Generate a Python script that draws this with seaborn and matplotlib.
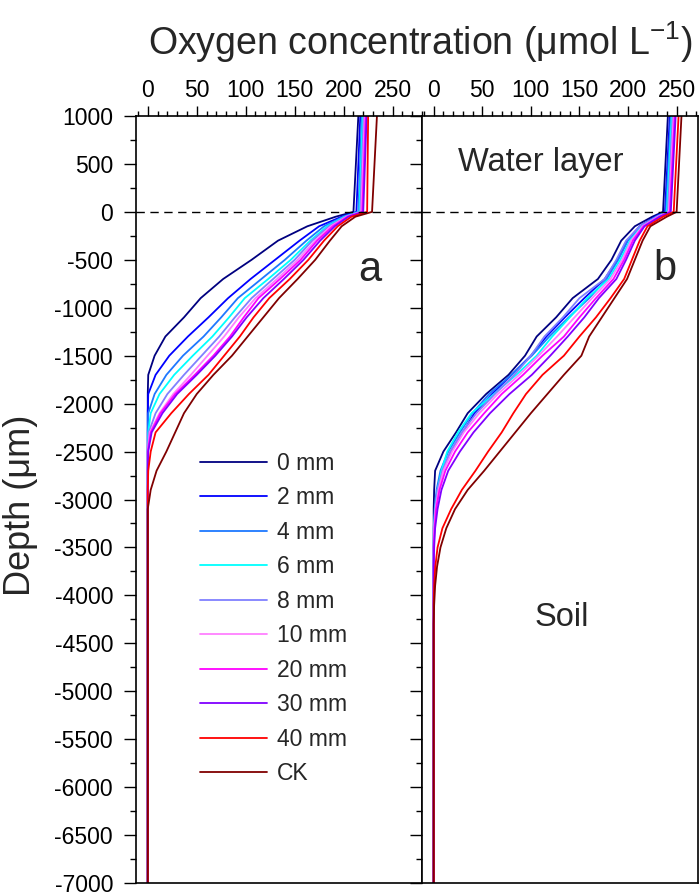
import numpy as np
import pandas as pd
import matplotlib
matplotlib.use("Agg")
import matplotlib.pyplot as plt
from matplotlib.ticker import MultipleLocator
import seaborn as sns

sns.set_theme(style="ticks", rc={"axes.edgecolor": "black", "axes.linewidth": 1.2,
                                 "xtick.color": "black", "ytick.color": "black"})
plt.rcParams["font.family"] = ["Liberation Sans", "DejaVu Sans"]
plt.rcParams["mathtext.fontset"] = "custom"
plt.rcParams["mathtext.rm"] = "Liberation Sans"
plt.rcParams["mathtext.default"] = "regular"
plt.rcParams["axes.unicode_minus"] = False

# depth grid (um) shared by every profile
depth = [1000, 0, -50, -150, -300, -500, -700, -900, -1100, -1300, -1500, -1700, -1900,
         -2100, -2300, -2500, -2700, -2900, -3100, -3300, -3500, -3700, -3900, -4100, -4300, -7000]

treatments = ["0 mm", "2 mm", "4 mm", "6 mm", "8 mm", "10 mm", "20 mm", "30 mm", "40 mm", "CK"]
colors = ["#000080", "#0000ff", "#1e78ff", "#00ffff", "#8080ff",
          "#ff80ff", "#ff00ff", "#8000ff", "#ff0000", "#800000"]

# panel a oxygen profiles (umol/L)
a_0 = [215, 210, 192, 163, 133, 106, 77, 54, 37, 18, 7, 0.5, 0, 0, 0, 0, 0, 0, 0, 0, 0, 0, 0, 0, 0, 0]
a_2 = [217, 213, 198, 175, 155, 130, 105, 82, 62, 41, 22, 8, 0.5, 0, 0, 0, 0, 0, 0, 0, 0, 0, 0, 0, 0, 0]
a_4 = [218.5, 215, 200, 180, 162, 140, 116, 92, 75, 57, 36, 19, 7, 0.5, 0, 0, 0, 0, 0, 0, 0, 0, 0, 0, 0, 0]
a_6 = [219.5, 216, 201, 183, 166, 146, 123, 99, 83, 66, 46, 27, 12, 3, 0.5, 0, 0, 0, 0, 0, 0, 0, 0, 0, 0, 0]
a_8 = [220.5, 217, 202, 185, 168, 150, 128, 106, 89, 73, 55, 37, 20, 8, 1, 0, 0, 0, 0, 0, 0, 0, 0, 0, 0, 0]
a_10 = [221.5, 218, 203, 187, 171, 153, 132, 110, 93, 78, 61, 44, 26, 12, 2, 0, 0, 0, 0, 0, 0, 0, 0, 0, 0, 0]
a_20 = [222.5, 219, 204, 189, 173, 156, 135, 113, 98, 84, 67, 48, 28, 13, 3, 0, 0, 0, 0, 0, 0, 0, 0, 0, 0, 0]
a_30 = [223.5, 220, 205, 191, 176, 159, 139, 118, 101, 86, 69, 50, 30, 15, 4, 0.5, 0, 0, 0, 0, 0, 0, 0, 0, 0, 0]
a_40 = [225, 224, 208, 194, 180, 164, 145, 124, 108, 94, 78, 62, 42, 24, 8, 3, 0.5, 0, 0, 0, 0, 0, 0, 0, 0, 0]
a_ck = [234, 229, 212, 198, 186, 171, 153, 134, 118, 102, 86, 67, 50, 37, 28, 19, 9, 3, 0, 0, 0, 0, 0, 0, 0, 0]

# panel b oxygen profiles (umol/L)
b_0 = [241, 236, 225, 207, 193, 183, 169, 143, 126, 106, 94, 77, 54, 35, 23, 10, 1.5, 0.5, 0, 0, 0, 0, 0, 0, 0, 0]
b_2 = [243, 238, 228, 212, 199, 189, 176, 155, 135, 116, 100, 80, 60, 42, 30, 18, 9, 4, 1.5, 0.5, 0, 0, 0, 0, 0, 0]
b_4 = [244, 239, 229, 213, 200, 190, 178, 160, 139, 119, 101, 80, 57, 40, 27, 15, 7, 3, 1, 0, 0, 0, 0, 0, 0, 0]
b_6 = [245, 240, 230, 214, 202, 192, 180, 158, 140, 122, 106, 85, 62, 39, 25, 14, 8, 4, 1.5, 0.5, 0, 0, 0, 0, 0, 0]
b_8 = [246, 241, 230, 212, 198, 188, 176, 150, 133, 114, 100, 83, 63, 44, 29, 17, 9, 4, 1.5, 0.5, 0, 0, 0, 0, 0, 0]
b_10 = [247, 242, 231, 215, 203, 194, 182, 163, 145, 127, 108, 88, 66, 47, 31, 19, 10, 5, 2, 0.5, 0, 0, 0, 0, 0, 0]
b_20 = [248, 243, 232, 216, 205, 196, 185, 167, 150, 134, 112, 92, 70, 52, 35, 22, 12, 6, 2.5, 1, 0, 0, 0, 0, 0, 0]
b_30 = [249, 244, 233, 217, 207, 198, 188, 170, 155, 138, 120, 101, 78, 58, 41, 27, 15, 8, 4, 1.5, 0.5, 0, 0, 0, 0, 0]
b_40 = [252, 247, 236, 220, 212, 204, 196, 182, 167, 150, 134, 112, 95, 82, 70, 56, 43, 29, 18, 9, 4, 1.7, 0.5, 0, 0, 0]
b_ck = [255, 250, 240, 223, 215, 207, 199, 186, 173, 160, 152, 134, 117, 100, 84, 68, 52, 35, 22, 13, 7, 3.5, 1.5, 0.5, 0, 0]

panel_a = [a_0, a_2, a_4, a_6, a_8, a_10, a_20, a_30, a_40, a_ck]
panel_b = [b_0, b_2, b_4, b_6, b_8, b_10, b_20, b_30, b_40, b_ck]


def to_frame(profiles):
    rows = []
    for name, vals in zip(treatments, profiles):
        for d, c in zip(depth, vals):
            rows.append({"treatment": name, "depth": d, "conc": c})
    return pd.DataFrame(rows)


fig = plt.figure(figsize=(7, 8.94), dpi=100)
ax_a = fig.add_axes([136 / 700, 11 / 894, 286 / 700, 767 / 894])
ax_b = fig.add_axes([422 / 700, 11 / 894, 276 / 700, 767 / 894])

pal = dict(zip(treatments, colors))
for ax, profiles, xlim in [(ax_a, panel_a, (-12, 280)), (ax_b, panel_b, (-12, 272))]:
    df = to_frame(profiles)
    sns.lineplot(data=df, x="conc", y="depth", hue="treatment", hue_order=treatments,
                 palette=pal, sort=False, estimator=None, orient="y", lw=1.3,
                 legend=(ax is ax_a), ax=ax)
    ax.axhline(0, color="black", lw=1, ls=(0, (6, 4)))
    ax.set_xlim(*xlim)
    ax.set_ylim(-7000, 1000)
    ax.set_xticks(range(0, 251, 50))
    ax.xaxis.set_minor_locator(MultipleLocator(10))
    ax.set_yticks(range(-7000, 1001, 500))
    ax.yaxis.set_minor_locator(MultipleLocator(250))
    ax.xaxis.set_ticks_position("top")
    ax.tick_params(axis="x", which="both", direction="out", top=True, bottom=False,
                   labeltop=True, labelbottom=False, labelsize=16.5, pad=3, width=1)
    ax.tick_params(axis="x", which="major", length=7)
    ax.tick_params(axis="x", which="minor", length=3.6)
    ax.tick_params(axis="y", which="both", direction="out", left=True, right=False,
                   labelsize=16.5, pad=8, width=1)
    ax.tick_params(axis="y", which="major", length=8.5)
    ax.tick_params(axis="y", which="minor", length=4.3)
    ax.set_xlabel("")
    ax.set_ylabel("")

ax_b.tick_params(axis="y", labelleft=False)

handles, labels = ax_a.get_legend_handles_labels()
ax_a.legend(handles, labels, loc="upper left", bbox_to_anchor=(0.225, 0.562),
            frameon=False, fontsize=16.5, handlelength=2.9, handletextpad=0.45,
            labelspacing=0.5, borderaxespad=0, borderpad=0)

ax_a.text(227, -610, "a", fontsize=30, ha="center", va="center")
ax_b.text(238, -600, "b", fontsize=30, ha="center", va="center")
ax_b.text(110, 520, "Water layer", fontsize=23.5, ha="center", va="center")
ax_b.text(132, -4230, "Soil", fontsize=23.5, ha="center", va="center")

fig.text(0.6, 0.953, "Oxygen concentration (μmol L$^{-1}$)", fontsize=27,
         ha="center", va="center")
fig.text(0.03, 0.435, "Depth (μm)", fontsize=26, rotation=90, ha="center", va="center")

fig.savefig("out.png", dpi=100)
